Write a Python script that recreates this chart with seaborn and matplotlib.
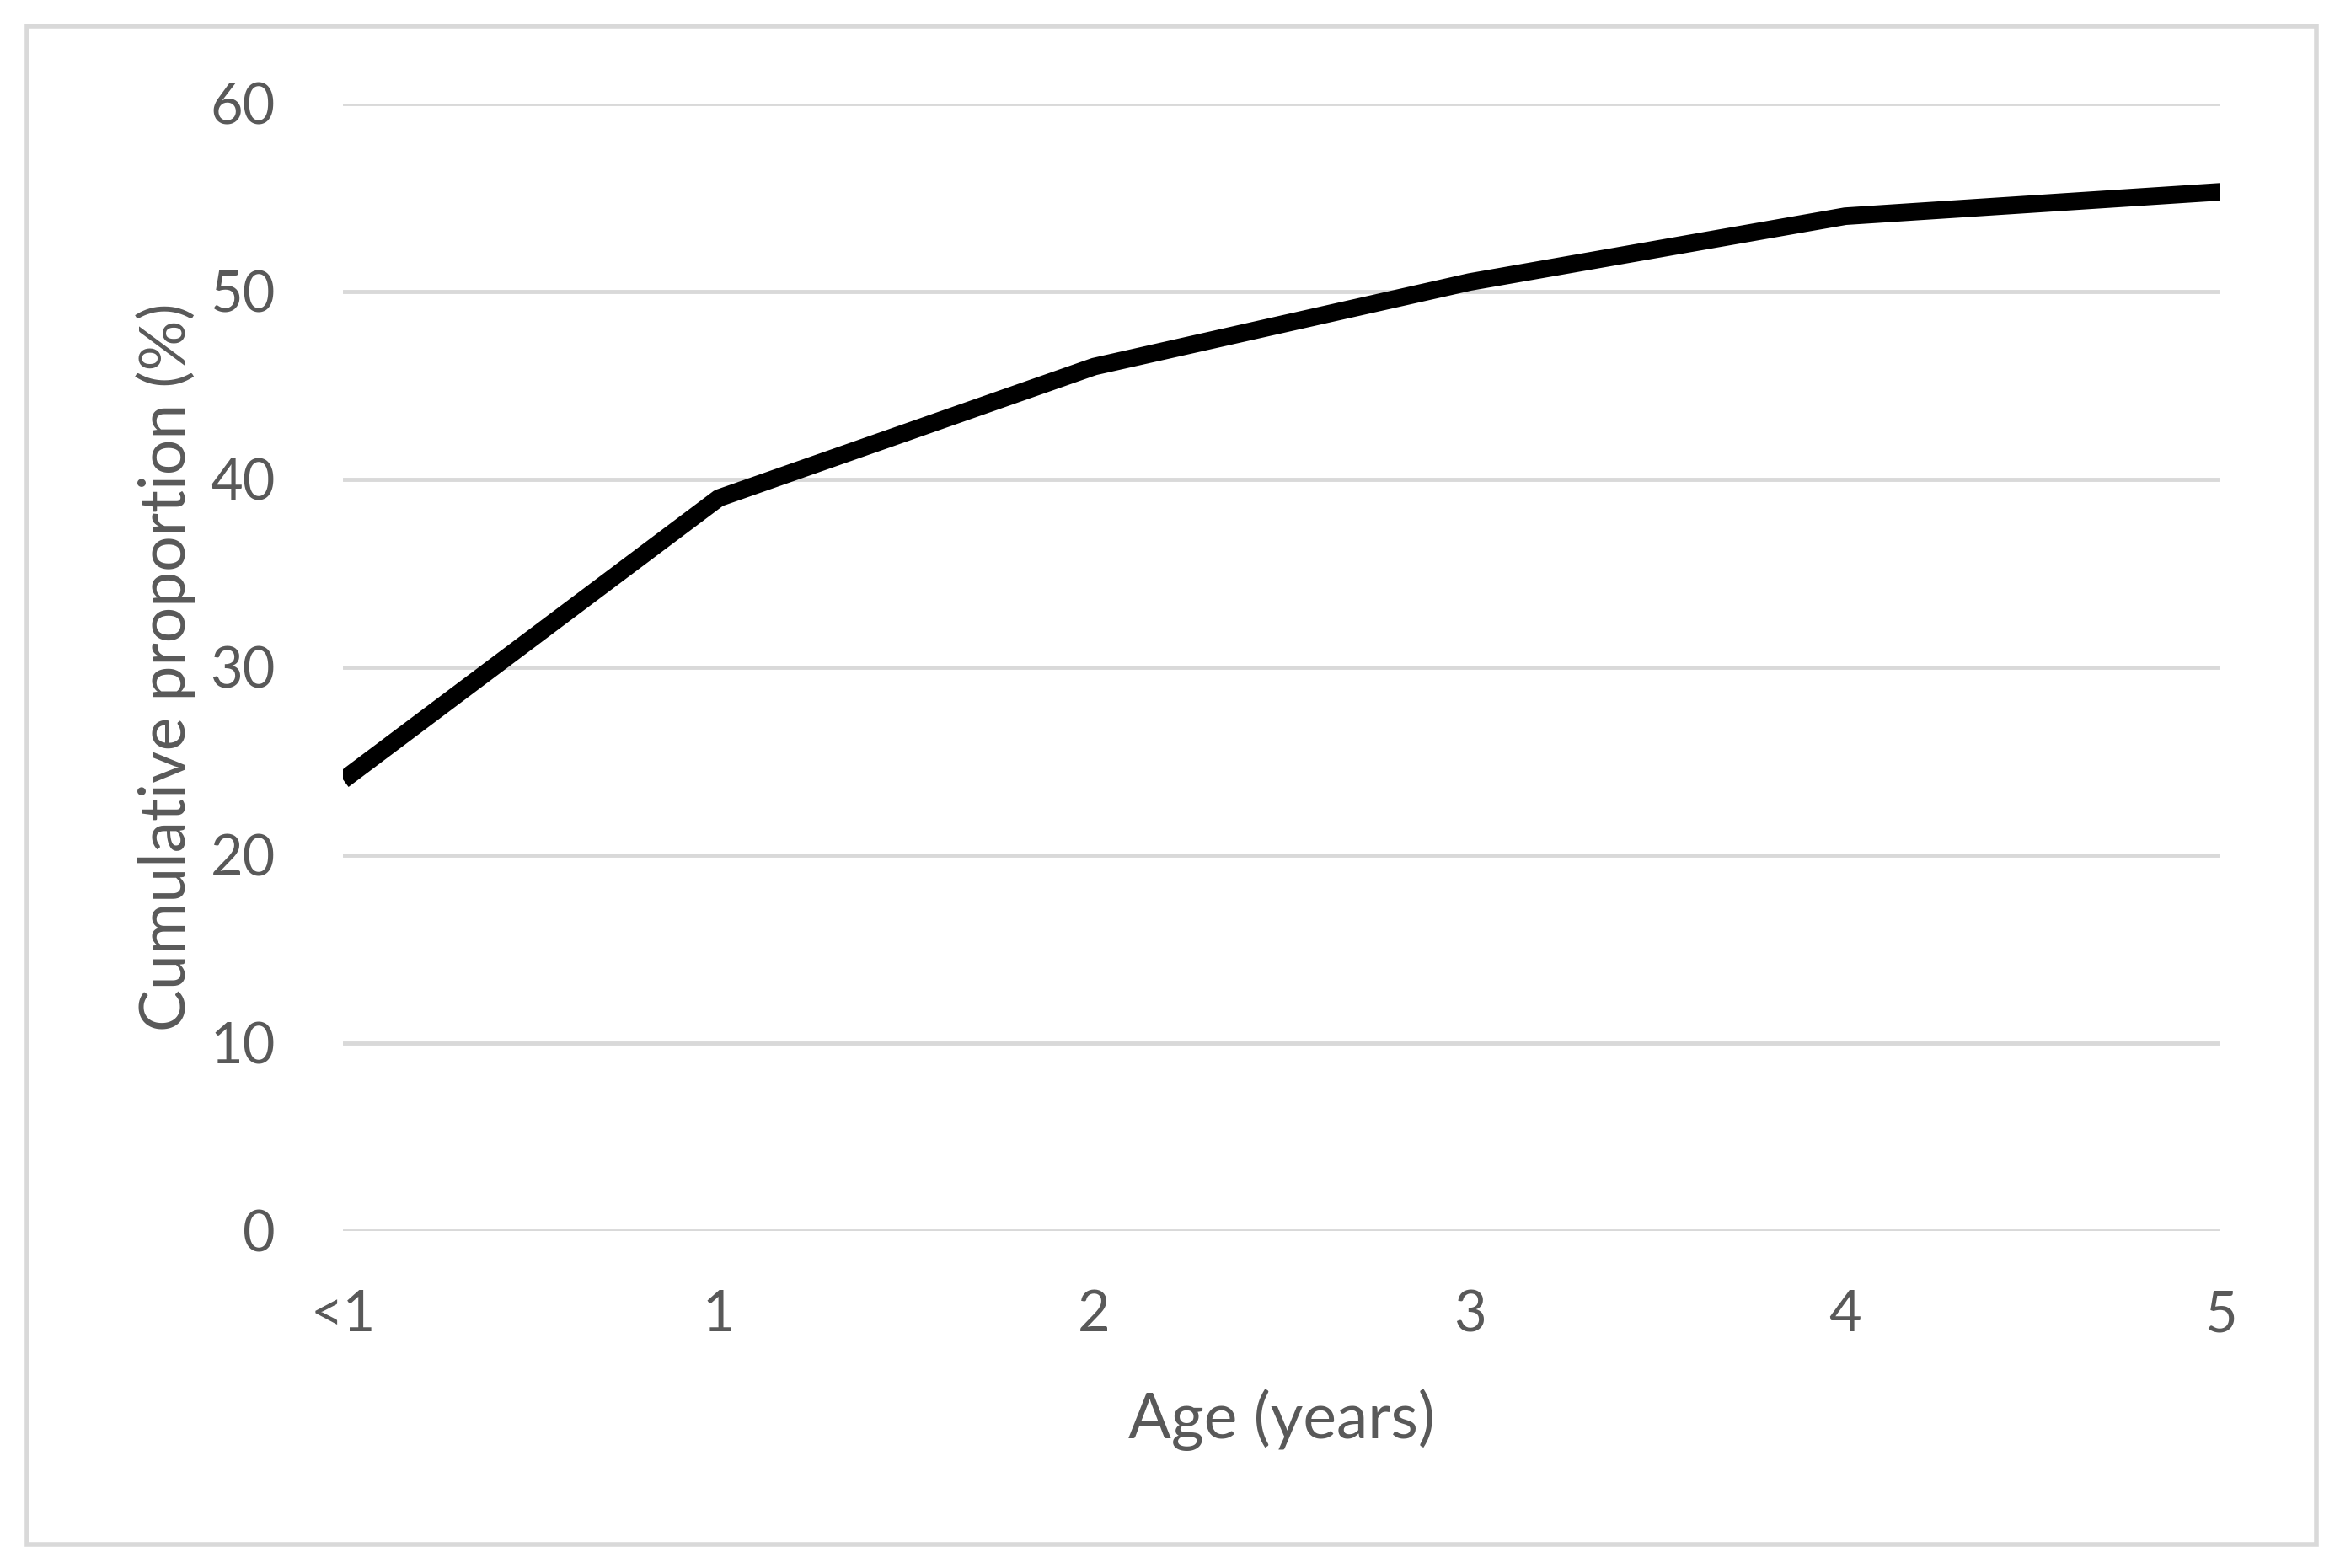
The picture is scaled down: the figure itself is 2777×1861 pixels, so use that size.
"""Cumulative proportion by age, line chart."""

import matplotlib.pyplot as plt
import pandas as pd
import seaborn as sns
from matplotlib.patches import Rectangle

ages = ["<1", "1", "2", "3", "4", "5"]
cumulative = [24.0, 39.0, 46.0, 50.5, 54.0, 55.3]
y_ticks = [0, 10, 20, 30, 40, 50, 60]

TEXT_GREY = "#595959"
GRID_GREY = "#d9d9d9"

sns.set_theme(style="white")
plt.rcParams["font.family"] = ["Lato", "DejaVu Sans"]

df = pd.DataFrame({"age": ages, "value": cumulative})

fig = plt.figure(figsize=(27.77, 18.61), dpi=100)
ax = fig.add_axes([0.1467, 0.215, 0.8023, 0.719])

for y in y_ticks:
    ax.axhline(y, color=GRID_GREY, linewidth=3.5, zorder=0)

sns.lineplot(data=df, x="age", y="value", color="black", linewidth=15,
             sort=False, ax=ax)
ax.lines[-1].set_solid_capstyle("butt")

ax.set_xlim(0, len(ages) - 1)
ax.set_ylim(0, 60)
ax.set_yticks(y_ticks)
ax.tick_params(axis="both", length=0, labelsize=48, labelcolor=TEXT_GREY)
ax.tick_params(axis="x", pad=50)
ax.tick_params(axis="y", pad=58)
ax.set_xlabel("Age (years)", fontsize=54, color=TEXT_GREY, labelpad=40)
ax.set_ylabel("Cumulative proportion (%)", fontsize=54, color=TEXT_GREY,
              labelpad=12)
for spine in ax.spines.values():
    spine.set_visible(False)
ax.set_facecolor("none")

fig.patches.append(Rectangle((0.0115, 0.0152), 0.9785, 0.968,
                             transform=fig.transFigure, fill=False,
                             edgecolor=GRID_GREY, linewidth=4))

fig.savefig("out.png", dpi=100, facecolor="white")
